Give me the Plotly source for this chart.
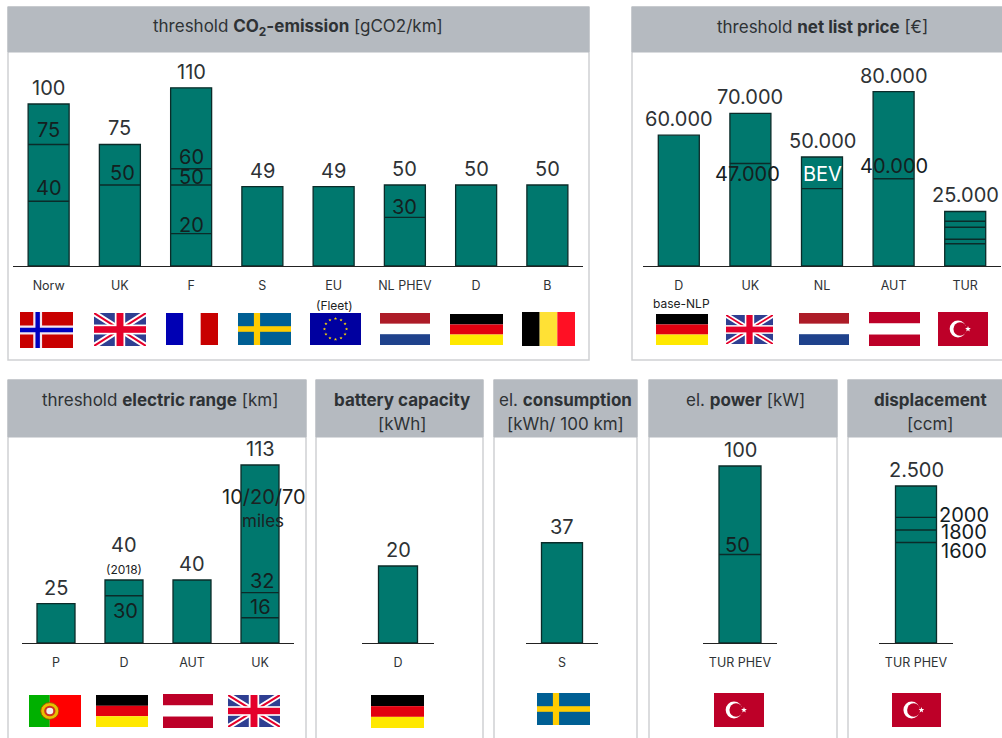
import base64
import math
import plotly.graph_objects as go

WIDTH, HEIGHT = 1002, 738

# ---------- data ----------
co2_categories = ["Norw", "UK", "F", "S", "EU", "NL PHEV", "D", "B"]
co2_values = [100, 75, 110, 49, 49, 50, 50, 50]
co2_value_labels = ["100", "75", "110", "49", "49", "50", "50", "50"]
co2_flags = ["NO", "UK", "FR", "SE", "EU", "NL", "DE", "BE"]
co2_thresholds = [("Norw", 75, "75"), ("Norw", 40, "40"), ("UK", 50, "50"), ("F", 60, "60"),
                  ("F", 50, "50"), ("F", 20, "20"), ("NL PHEV", 30, "30")]

price_categories = ["D", "UK", "NL", "AUT", "TUR"]
price_values = [60000, 70000, 50000, 80000, 25000]
price_value_labels = ["60.000", "70.000", "50.000", "80.000", "25.000"]
price_flags = ["DE", "UK", "NL", "AT", "TR"]
price_thresholds = [("UK", 47000, "47.000"), ("NL", 35500, "BEV"), ("AUT", 40000, "40.000"),
                    ("TUR", 20500, ""), ("TUR", 17800, ""), ("TUR", 12300, ""), ("TUR", 10200, "")]

range_categories = ["P", "D", "AUT", "UK"]
range_values = [25, 40, 40, 113]
range_value_labels = ["25", "40", "40", "113"]
range_flags = ["PT", "DE", "AT", "UK"]
range_thresholds = [("D", 30, "30"), ("UK", 32, "32"), ("UK", 16, "16")]

battery_categories = ["D"]
battery_values = [20]
battery_value_labels = ["20"]
battery_flags = ["DE"]

consumption_categories = ["S"]
consumption_values = [37]
consumption_value_labels = ["37"]
consumption_flags = ["SE"]

power_categories = ["TUR PHEV"]
power_values = [100]
power_value_labels = ["100"]
power_flags = ["TR"]
power_thresholds = [("TUR PHEV", 50, "50")]

displacement_categories = ["TUR PHEV"]
displacement_values = [2500]
displacement_value_labels = ["2.500"]
displacement_flags = ["TR"]
displacement_thresholds = [("TUR PHEV", 2000, "2000"), ("TUR PHEV", 1800, "1800"), ("TUR PHEV", 1600, "1600")]

# ---------- styling ----------
TEAL = "#00786e"
OUTLINE = "#0b2b29"
HEADER = "#b5bac0"
BORDER = "#cfd1d3"
TEXT = "#2e3235"
FONT = "Inter"
MARKER_SCALE = 1.4  # the line-ew marker is drawn 1.4x its nominal size


def b64(svg):
    return "data:image/svg+xml;base64," + base64.b64encode(svg.encode()).decode()


def star(cx, cy, r, fill):
    pts = []
    for i in range(10):
        a = -math.pi / 2 + i * math.pi / 5
        rr = r if i % 2 == 0 else r * 0.42
        pts.append(f"{cx + rr * math.cos(a):.2f},{cy + rr * math.sin(a):.2f}")
    return f'<polygon points="{" ".join(pts)}" fill="{fill}"/>'


def rects(items):
    return "".join(f'<rect x="{x}" y="{y}" width="{w}" height="{h}" fill="{c}"/>' for x, y, w, h, c in items)


def svg(body):
    return f'<svg xmlns="http://www.w3.org/2000/svg" viewBox="0 0 60 40" width="180" height="120" preserveAspectRatio="none">{body}</svg>'


def flag(code):
    if code == "NO":
        return svg(rects([(0, 0, 60, 40, "#c80000"), (15, 0, 10, 40, "#f4e6ee"), (0, 15, 60, 10, "#f4e6ee"),
                          (17.5, 0, 5, 40, "#0000c0"), (0, 17.5, 60, 5, "#0000c0")]))
    if code == "UK":
        return svg(rects([(0, 0, 60, 40, "#2f3f92")])
                   + '<path d="M0 0L60 40M60 0L0 40" stroke="#fff" stroke-width="7"/>'
                   + '<path d="M0 0L60 40M60 0L0 40" stroke="#e4002b" stroke-width="2.4"/>'
                   + rects([(24, 0, 12, 40, "#fff"), (0, 14, 60, 12, "#fff"), (26, 0, 8, 40, "#e4002b"), (0, 16, 60, 8, "#e4002b")]))
    if code == "FR":
        return svg(rects([(0, 0, 20, 40, "#0000b4"), (20, 0, 20, 40, "#ffffff"), (40, 0, 20, 40, "#c80000")]))
    if code == "SE":
        return svg(rects([(0, 0, 60, 40, "#005f94"), (18, 0, 7, 40, "#ffcc00"), (0, 16.5, 60, 7, "#ffcc00")]))
    if code == "EU":
        stars = "".join(star(30 + 13 * math.cos(i * math.pi / 6), 20 + 13 * math.sin(i * math.pi / 6), 2, "#ffd800") for i in range(12))
        return svg(rects([(0, 0, 60, 40, "#0000a0")]) + stars)
    if code == "NL":
        return svg(rects([(0, 0, 60, 13.5, "#ad1c28"), (0, 13.5, 60, 13, "#ffffff"), (0, 26.5, 60, 13.5, "#1f428c")]))
    if code == "DE":
        return svg(rects([(0, 0, 60, 13.5, "#000000"), (0, 13.5, 60, 13, "#e2000f"), (0, 26.5, 60, 13.5, "#ffe800")]))
    if code == "BE":
        return svg(rects([(0, 0, 20, 40, "#000000"), (20, 0, 20, 40, "#ffe135"), (40, 0, 20, 40, "#ff1024")]))
    if code == "AT":
        return svg(rects([(0, 0, 60, 13.5, "#bd0028"), (0, 13.5, 60, 13, "#ffffff"), (0, 26.5, 60, 13.5, "#bd0028")]))
    if code == "TR":
        return svg(rects([(0, 0, 60, 40, "#bd0028")])
                   + '<circle cx="24" cy="20" r="10" fill="#fff"/><circle cx="26.5" cy="20" r="8" fill="#bd0028"/>'
                   + star(36, 20, 3.6, "#fff"))
    if code == "PT":
        return svg(rects([(0, 0, 24, 40, "#00b000"), (24, 0, 36, 40, "#ff0000")])
                   + '<circle cx="24" cy="20" r="10.5" fill="#e8c000" stroke="#a04000" stroke-width="1"/>'
                   + '<circle cx="24" cy="20" r="6.5" fill="#d03020"/><circle cx="24" cy="20" r="4" fill="#f0f0f0"/>')
    raise ValueError(code)


# pixel layout of each panel (frame, header, axis, scale)
panels = [
    dict(cats=co2_categories, vals=co2_values, labels=co2_value_labels, flags=co2_flags, th=co2_thresholds,
         frame=(8, 7, 589, 360), head=52, axis=(13, 583), base=266, scale=1.62, barpx=41, size=20,
         title=["threshold <b>CO<sub>2</sub>-emission</b> [gCO2/km]"], tc=298,
         flagbox=[(20, 312, 73, 348), (94, 313, 146, 346), (166, 313, 218, 345), (238, 313, 291, 345),
                  (310, 313, 361, 345), (380, 313, 430, 345), (450, 314, 503, 345), (522, 312, 575, 346)],
         th_off=[(0, 14), (0, 13), (3, 12), (0, 12), (0, 7.5), (0, 9), (0, 10)]),
    dict(cats=price_categories, vals=price_values, labels=price_value_labels, flags=price_flags, th=price_thresholds,
         frame=(632, 7, 1010, 360), head=52, axis=(643, 1001), base=266, scale=0.00218, barpx=41, size=20,
         title=["threshold <b>net list price</b> [€]"], tc=822,
         flagbox=[(656, 314, 708, 345), (726, 315, 773, 344), (799, 313, 849, 345), (869, 312, 920, 346), (938, 312, 988, 346)],
         th_off=[(-3, -10), (0, 15), (0, 13), (0, 0), (0, 0), (0, 0), (0, 0)]),
    dict(cats=range_categories, vals=range_values, labels=range_value_labels, flags=range_flags, th=range_thresholds,
         frame=(8, 380, 306, 760), head=437, axis=(22, 294), base=643, scale=1.575, barpx=38, size=20,
         title=["threshold <b>electric range</b> [km]"], tc=160,
         flagbox=[(29, 695, 81, 727), (96, 695, 148, 727), (163, 694, 213, 728), (228, 695, 280, 727)],
         th_off=[(1, -15), (2, 12), (0, 11)], top_off={1: 35}),
    dict(cats=battery_categories, vals=battery_values, labels=battery_value_labels, flags=battery_flags, th=[],
         frame=(316, 380, 483, 760), head=437, axis=(362, 434), base=643, scale=3.85, barpx=39, size=20,
         title=["<b>battery capacity</b>", "[kWh]"], tc=402, flagbox=[(371, 695, 424, 728)], th_off=[]),
    dict(cats=consumption_categories, vals=consumption_values, labels=consumption_value_labels, flags=consumption_flags, th=[],
         frame=(494, 380, 637, 760), head=437, axis=(526, 598), base=643, scale=2.71, barpx=41, size=20,
         title=["el. <b>consumption</b>", "[kWh/ 100 km]"], tc=565, flagbox=[(537, 693, 590, 725)], th_off=[]),
    dict(cats=power_categories, vals=power_values, labels=power_value_labels, flags=power_flags, th=power_thresholds,
         frame=(649, 380, 837, 760), head=437, axis=(703, 777), base=643, scale=1.77, barpx=42, size=20,
         title=["el. <b>power</b> [kW]"], tc=745, flagbox=[(714, 693, 764, 727)], th_off=[(-3, 10)]),
    dict(cats=displacement_categories, vals=displacement_values, labels=displacement_value_labels, flags=displacement_flags,
         th=displacement_thresholds,
         frame=(848, 380, 1010, 760), head=437, axis=(879, 953), base=643, scale=0.0628, barpx=41, size=20,
         title=["<b>displacement</b>", "[ccm]"], tc=930, flagbox=[(892, 693, 941, 727)],
         th_off=[(48, 2), (48, -2), (48, -8)]),
]

fig = go.Figure()
shapes, annotations, images = [], [], []


def px(x):
    return x / WIDTH


def py(y):
    return 1 - y / HEIGHT


for i, p in enumerate(panels):
    n = i + 1
    sx = "" if n == 1 else str(n)
    xname, yname = f"x{sx}", f"y{sx}"
    x0, y0, x1, y1 = p["frame"]
    shapes.append(dict(type="rect", xref="paper", yref="paper", x0=px(x0), x1=px(x1), y0=py(y0), y1=py(y1),
                       line=dict(color=BORDER, width=1.5), fillcolor="white", layer="below"))
    shapes.append(dict(type="rect", xref="paper", yref="paper", x0=px(x0), x1=px(x1), y0=py(y0), y1=py(p["head"]),
                       line=dict(color=HEADER, width=1), fillcolor=HEADER, layer="below"))

    ax0, ax1 = p["axis"]
    step = (ax1 - ax0) / len(p["cats"])
    gap = 1 - p["barpx"] / step
    ymax = (p["base"] - p["head"]) / p["scale"]

    fig.add_trace(go.Bar(x=p["cats"], y=p["vals"], xaxis=xname, yaxis=yname, width=1 - gap,
                         marker=dict(color=TEAL, line=dict(color=OUTLINE, width=1.3)), showlegend=False, hoverinfo="x+y"))
    if p["th"]:
        fig.add_trace(go.Scatter(x=[t[0] for t in p["th"]], y=[t[1] for t in p["th"]], xaxis=xname, yaxis=yname,
                                 mode="markers", showlegend=False, hoverinfo="skip",
                                 marker=dict(symbol="line-ew", size=p["barpx"] / MARKER_SCALE, color=OUTLINE,
                                             line=dict(color=OUTLINE, width=1.4))))

    axis_key = "xaxis" if n == 1 else f"xaxis{n}"
    yaxis_key = "yaxis" if n == 1 else f"yaxis{n}"
    fig.update_layout({
        axis_key: dict(domain=[px(ax0), px(ax1)], anchor=yname, type="category", categoryorder="array",
                       categoryarray=p["cats"], range=[-0.5, len(p["cats"]) - 0.5], showgrid=False,
                       showline=True, linecolor="#222222", linewidth=1.3, zeroline=False, fixedrange=True,
                       ticks="outside", ticklen=8, tickcolor="rgba(0,0,0,0)",
                       tickfont=dict(family=FONT, size=12.5, color=TEXT)),
        yaxis_key: dict(domain=[py(p["base"]), py(p["head"])], anchor=xname, range=[0, ymax], visible=False, fixedrange=True),
    })

    # values above the bars
    for j, (c, v, t) in enumerate(zip(p["cats"], p["vals"], p["labels"])):
        annotations.append(dict(x=c, y=v, xref=xname, yref=yname, text=t, showarrow=False, yanchor="middle", xanchor="center",
                                yshift=p.get("top_off", {}).get(j, 16), font=dict(family=FONT, size=p["size"], color=TEXT)))
    # threshold labels
    for (c, v, t), (dx, dy) in zip(p["th"], p["th_off"]):
        if t:
            annotations.append(dict(x=c, y=v, xref=xname, yref=yname, text=t, showarrow=False, yanchor="middle", xanchor="center",
                                    xshift=dx, yshift=dy,
                                    font=dict(family=FONT, size=p["size"],
                                              color="white" if t == "BEV" else "#14201f")))
    # header text
    ys = [p["head"] - 25] if len(p["title"]) == 1 else [p["head"] - 37, p["head"] - 13]
    if p["head"] == 437 and len(p["title"]) == 1:
        ys = [400]
    for line, yy in zip(p["title"], ys):
        annotations.append(dict(x=px(p["tc"]), y=py(yy), xref="paper", yref="paper", text=line, showarrow=False,
                                xanchor="center", yanchor="middle", font=dict(family=FONT, size=17, color=TEXT)))
    # flags
    for code, (fx0, fy0, fx1, fy1) in zip(p["flags"], p["flagbox"]):
        images.append(dict(source=b64(flag(code)), xref="paper", yref="paper", x=px(fx0), y=py(fy0),
                           sizex=(fx1 - fx0) / WIDTH, sizey=(fy1 - fy0) / HEIGHT, xanchor="left", yanchor="top",
                           sizing="stretch", layer="above"))

# additional notes
notes = [
    ("(Fleet)", 334, 305, 12),
    ("base-NLP", 681, 303, 12),
    ("(2018)", 124, 569, 12),
    ("10/20/70", 264, 497, 20),
    ("miles", 263, 521, 17),
]
for t, x, y, s in notes:
    annotations.append(dict(x=px(x), y=py(y), xref="paper", yref="paper", text=t, showarrow=False,
                            xanchor="center", yanchor="middle", font=dict(family=FONT, size=s, color="#1c2222")))

fig.update_layout(width=WIDTH, height=HEIGHT, margin=dict(l=0, r=0, t=0, b=0), autosize=False,
                  paper_bgcolor="white", plot_bgcolor="rgba(0,0,0,0)", barmode="overlay",
                  shapes=shapes, annotations=annotations, images=images, showlegend=False)

fig.write_html("out.html", config=dict(displayModeBar=False),
               post_script="document.body.style.margin='0';document.body.style.overflow='hidden';")
